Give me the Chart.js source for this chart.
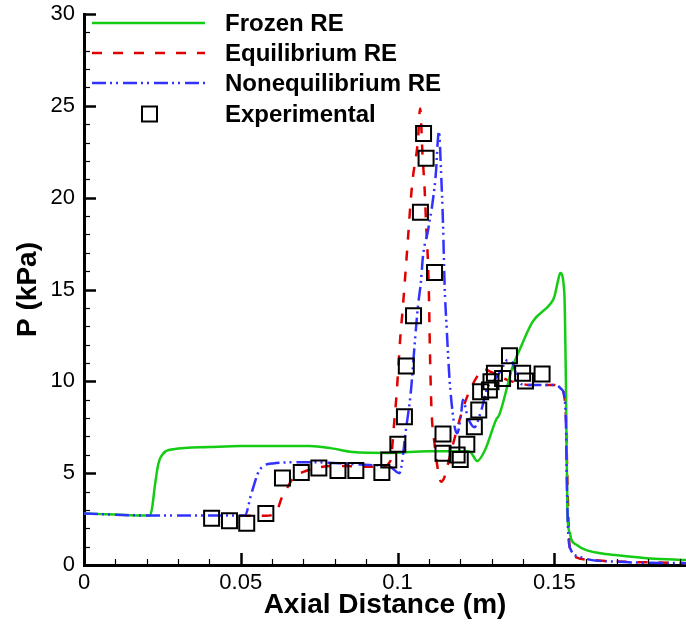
<!DOCTYPE html>
<html>
<head>
<meta charset="utf-8">
<script src="https://cdn.jsdelivr.net/npm/chart.js@4.4.0/dist/chart.umd.min.js"></script>
<style>
  html, body { margin: 0; padding: 0; background: #fff; }
  canvas { display: block; }
</style>
</head>
<body>
<canvas id="chart" width="686" height="627"></canvas>
<script>
const X_MIN = 0;
const X_MAX = 0.192;
const Y_MIN = 0;
const Y_MAX = 30;
const X_TICKS = [0, 0.05, 0.1, 0.15];
const Y_TICKS = [0, 5, 10, 15, 20, 25, 30];
const X_MINOR_STEP = 0.01;
const Y_MINOR_STEP = 1;

const frozenX = [0, 0.010, 0.019, 0.0211, 0.0218, 0.0226, 0.0237, 0.0253, 0.0285, 0.040, 0.050, 0.072,
  0.079, 0.0857, 0.0975, 0.110, 0.1225, 0.1235, 0.1254, 0.128, 0.1314, 0.1325, 0.1367, 0.1389,
  0.1431, 0.1489, 0.1500, 0.1512, 0.1519, 0.1532, 0.1537, 0.1542, 0.1550, 0.1553, 0.1572, 0.160,
  0.1646, 0.1696, 0.1805, 0.192];
const frozenP = [2.8, 2.75, 2.7, 2.7, 3.2, 4.3, 5.5, 6.08, 6.3, 6.42, 6.48, 6.48,
  6.35, 6.15, 6.1, 6.2, 6.2, 6.1, 5.66, 6.3, 7.9, 8.2, 10.8, 11.7,
  13.25, 14.25, 14.6, 15.5, 15.9, 14.8, 9.9, 2.6, 1.73, 1.45, 1.09, 0.82,
  0.64, 0.54, 0.36, 0.27];

const equilX = [0.050, 0.053, 0.058, 0.0614, 0.063, 0.0648, 0.0667, 0.0709, 0.0762, 0.081, 0.0911,
  0.0953, 0.0972, 0.098, 0.099, 0.0996, 0.1009, 0.1017, 0.1033, 0.1043, 0.1049, 0.1065, 0.1072,
  0.108, 0.1086, 0.1091, 0.1097, 0.1100, 0.1103, 0.1108, 0.1118, 0.1129, 0.1139, 0.1150, 0.1165,
  0.1182, 0.1203, 0.1224, 0.1261, 0.1275, 0.1300, 0.1351, 0.1389, 0.142, 0.1495, 0.1521, 0.1532,
  0.1537, 0.1542, 0.1548, 0.1558, 0.1622, 0.192];
const equilP = [2.68, 2.68, 2.68, 2.9, 3.63, 4.2, 4.72, 5.13, 5.35, 5.39, 5.35,
  5.35, 5.53, 5.9, 7.9, 9.07, 12.43, 14.06, 17.7, 20.05, 21.1, 23.1, 24.86,
  22.2, 20.6, 18.6, 16.5, 14.8, 11.9, 8.6, 6.6, 5.17, 4.53, 4.8, 5.8,
  6.9, 8.2, 9.25, 10.44, 10.65, 10.5, 10.07, 9.9, 9.8, 9.8, 9.7, 9.16,
  8.07, 4.45, 1.18, 0.54, 0.27, 0.1];

const noneqX = [0, 0.02, 0.04, 0.0513, 0.0534, 0.056, 0.0603, 0.072, 0.085, 0.0911, 0.0975, 0.1006,
  0.1028, 0.1043, 0.1054, 0.1065, 0.1075, 0.1081, 0.1097, 0.1113, 0.1123, 0.1128, 0.1132, 0.1139,
  0.1145, 0.115, 0.1157, 0.1166, 0.1176, 0.1182, 0.119, 0.1203, 0.1208, 0.1225, 0.1245, 0.1265,
  0.1288, 0.1309, 0.133, 0.1351, 0.1367, 0.1383, 0.141, 0.1442, 0.1505, 0.1521, 0.1532, 0.1537,
  0.154, 0.1545, 0.1553, 0.158, 0.1696, 0.192];
const noneqP = [2.8, 2.7, 2.7, 2.7, 3.9, 5.17, 5.53, 5.6, 5.5, 5.44, 5.35, 5.0,
  7.53, 9.53, 11.9, 14.06, 15.5, 16.8, 18.2, 19.9, 21.5, 23.0, 23.6, 21.3,
  18.6, 15.3, 12.8, 10.07, 8.26, 7.53, 7.17, 8.26, 9.0, 8.0, 7.5, 8.3,
  9.7, 10.07, 10.6, 11.16, 11.0, 10.07, 9.8, 9.8, 9.8, 9.6, 9.16, 7.7,
  4.45, 1.54, 0.82, 0.45, 0.18, 0.1];

const expX = [0.0407, 0.0464, 0.0519, 0.058, 0.0633, 0.0693, 0.0749, 0.081, 0.0867, 0.095, 0.0972,
  0.1001, 0.1022, 0.1028, 0.1051, 0.1073, 0.1083, 0.1091, 0.1118, 0.1145, 0.1145, 0.119, 0.120,
  0.1221, 0.1245, 0.1259, 0.1265, 0.1293, 0.1298, 0.1309, 0.1335, 0.1357, 0.1399, 0.1408, 0.1461];
const expP = [2.54, 2.41, 2.27, 2.81, 4.74, 5.03, 5.28, 5.15, 5.15, 5.03, 5.72,
  6.57, 8.07, 10.83, 13.57, 19.2, 23.5, 22.14, 15.93, 7.13, 6.08, 5.99, 5.75,
  6.57, 7.53, 8.44, 9.43, 9.53, 9.98, 10.44, 10.16, 11.39, 10.44, 10.02, 10.4];

const FONT = '"Liberation Sans", Arial, Helvetica, sans-serif';

function points(xs, ys) {
  return xs.map((x, i) => ({ x, y: ys[i] }));
}

const innerTicks = {
  id: 'innerTicks',
  afterDraw(chart) {
    const { ctx, scales: { x, y } } = chart;
    const x0 = x.getPixelForValue(X_MIN);
    const y0 = y.getPixelForValue(Y_MIN);
    ctx.save();
    ctx.strokeStyle = '#000';
    const n = Math.round((X_MAX - X_MIN) / X_MINOR_STEP);
    for (let i = 0; i <= n; i++) {
      const v = X_MIN + i * X_MINOR_STEP;
      if (v > X_MAX) break;
      const major = X_TICKS.some(t => Math.abs(t - v) < 1e-9);
      const px = Math.round(x.getPixelForValue(v)) + 0.5;
      ctx.lineWidth = major ? 2.5 : 1.2;
      ctx.beginPath();
      ctx.moveTo(px, y0);
      ctx.lineTo(px, y0 - (major ? 12 : 6));
      ctx.stroke();
    }
    for (let v = Y_MIN; v <= Y_MAX; v += Y_MINOR_STEP) {
      const major = Y_TICKS.includes(v);
      const py = Math.round(y.getPixelForValue(v)) + 0.5;
      ctx.lineWidth = major ? 2.5 : 1.2;
      ctx.beginPath();
      ctx.moveTo(x0, py);
      ctx.lineTo(x0 + (major ? 12 : 6), py);
      ctx.stroke();
    }
    ctx.restore();
  }
};

const innerLegend = {
  id: 'innerLegend',
  afterDraw(chart) {
    const { ctx } = chart;
    const rows = [23, 53, 83, 114];
    ctx.save();
    ctx.font = 'bold 24px ' + FONT;
    ctx.textBaseline = 'middle';
    ctx.fillStyle = '#000';
    chart.data.datasets.forEach((ds, i) => {
      const yy = rows[i];
      if (ds.showLine === false) {
        ctx.lineWidth = 2;
        ctx.strokeStyle = '#000';
        ctx.setLineDash([]);
        ctx.strokeRect(142, yy - 7.5, 15, 15);
      } else {
        ctx.lineWidth = ds.borderWidth;
        ctx.strokeStyle = ds.borderColor;
        ctx.setLineDash(ds.borderDash || []);
        ctx.beginPath();
        ctx.moveTo(92, yy);
        ctx.lineTo(205, yy);
        ctx.stroke();
      }
      ctx.setLineDash([]);
      ctx.fillText(ds.label, 225, yy + 1);
    });
    ctx.restore();
  }
};

new Chart(document.getElementById('chart'), {
  type: 'line',
  data: {
    datasets: [
      {
        label: 'Frozen RE',
        data: points(frozenX, frozenP),
        borderColor: '#14cc14',
        borderWidth: 2.5,
        pointRadius: 0,
        cubicInterpolationMode: 'monotone',
        order: 2
      },
      {
        label: 'Equilibrium RE',
        data: points(equilX, equilP),
        borderColor: '#e00000',
        borderWidth: 2.5,
        borderDash: [10, 11],
        pointRadius: 0,
        cubicInterpolationMode: 'monotone',
        order: 3
      },
      {
        label: 'Nonequilibrium RE',
        data: points(noneqX, noneqP),
        borderColor: '#3232ff',
        borderWidth: 2.5,
        borderDash: [14, 4, 2, 4, 2, 5],
        pointRadius: 0,
        cubicInterpolationMode: 'monotone',
        order: 1
      },
      {
        label: 'Experimental',
        data: points(expX, expP),
        showLine: false,
        pointStyle: 'rect',
        pointRadius: 10.6,
        pointBorderWidth: 2,
        pointBorderColor: '#000',
        pointBackgroundColor: 'rgba(0,0,0,0)',
        order: 0
      }
    ]
  },
  options: {
    responsive: false,
    animation: false,
    events: [],
    layout: { autoPadding: false, padding: { top: 14, right: 0, left: 0, bottom: 0 } },
    plugins: { legend: { display: false }, tooltip: { enabled: false } },
    scales: {
      x: {
        type: 'linear',
        min: X_MIN,
        max: X_MAX,
        afterBuildTicks: s => { s.ticks = X_TICKS.map(v => ({ value: v })); },
        afterFit: s => { s.height = 62; s.paddingLeft = 0; s.paddingRight = 0; },
        grid: { display: false, drawTicks: false },
        border: { display: true, color: '#000', width: 3 },
        ticks: {
          color: '#000',
          padding: 5,
          maxRotation: 0,
          font: { family: FONT, size: 22 },
          callback: v => String(+v.toFixed(2))
        },
        title: {
          display: true,
          text: 'Axial Distance (m)',
          color: '#000',
          font: { family: FONT, size: 28, weight: 'bold' },
          padding: { top: 0, bottom: 5 }
        }
      },
      y: {
        type: 'linear',
        min: Y_MIN,
        max: Y_MAX,
        afterBuildTicks: s => { s.ticks = Y_TICKS.map(v => ({ value: v })); },
        afterFit: s => { s.width = 84; s.paddingTop = 0; s.paddingBottom = 0; },
        grid: { display: false, drawTicks: false },
        border: { display: true, color: '#000', width: 3 },
        ticks: {
          color: '#000',
          padding: 9,
          font: { family: FONT, size: 22 },
          callback: v => String(v)
        },
        title: {
          display: true,
          text: 'P (kPa)',
          color: '#000',
          font: { family: FONT, size: 28, weight: 'bold' },
          padding: { top: 11, bottom: 0 }
        }
      }
    }
  },
  plugins: [innerTicks, innerLegend]
});
</script>
</body>
</html>
